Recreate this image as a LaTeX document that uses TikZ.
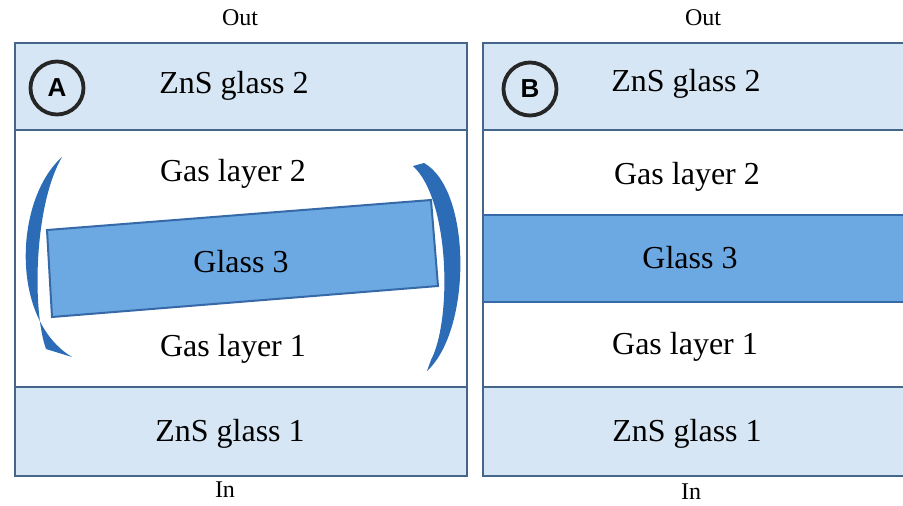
\documentclass[tikz,border=0pt]{standalone}
\usepackage{fontspec}
\setmainfont{Liberation Serif}
\setsansfont{Liberation Sans}
\begin{document}
\begin{tikzpicture}[x=1pt,y=-1pt]
\definecolor{zns}{HTML}{D6E6F4}
\definecolor{frame}{HTML}{46658B}
\definecolor{glassfill}{HTML}{6CA8E2}
\definecolor{glassedge}{HTML}{3569A8}
\definecolor{bracket}{HTML}{2C6BB5}
\tikzset{
  frameline/.style={draw=frame, line width=2.8pt},
  layertext/.style={font=\fontsize{32}{38}\selectfont, inner sep=0pt},
  porttext/.style={font=\fontsize{24}{28}\selectfont, inner sep=0pt},
  badge/.style={circle, draw=black!85, line width=3.8pt, minimum size=53pt, inner sep=0pt,
    font=\sffamily\bfseries\fontsize{26}{30}\selectfont},
}
\useasboundingbox (0,0) rectangle (903,506);
\fill[white] (0,0) rectangle (903,506);

% ---- panel A: tilted glass 3 ----
\fill[zns] (15,43) rectangle (467,130);
\fill[zns] (15,387) rectangle (467,476);
\draw[frameline] (15,43) rectangle (467,476);
\draw[frameline] (15,130) -- (467,130);
\draw[frameline] (15,387) -- (467,387);

\filldraw[fill=glassfill, draw=glassedge, line width=2pt]
  (47,230) -- (431,200) -- (438,286) -- (52,317) -- cycle;

% curved arrows around the tilted glass
\fill[bracket] (62,157) .. controls (14,200) and (10,320) .. (72,357)
  -- (46,349) .. controls (32,310) and (34,205) .. (62,157) -- cycle;
\fill[bracket] (413,166) -- (424,163) .. controls (472,190) and (472,330) .. (427,371)
  -- (431,360) .. controls (452,320) and (450,200) .. (413,166) -- cycle;

\node[badge] (badgeA) at (57,88) {A};
\node[layertext] (aznstop) at (234,86) {ZnS glass 2};
\node[layertext] (agas2) at (233,174) {Gas layer 2};
\node[layertext] (aglass3) at (241,262) {Glass 3};
\node[layertext] (agas1) at (233,349) {Gas layer 1};
\node[layertext] (aznsbot) at (230,434) {ZnS glass 1};
\node[porttext] (aout) at (240,18) {Out};
\node[porttext] (ain) at (225,490) {In};

% ---- panel B: level glass 3 ----
\fill[zns] (483,43) rectangle (905,130);
\fill[zns] (483,387) rectangle (905,476);
\fill[glassfill] (483,215) rectangle (905,302);
\draw[frameline] (905,43) -- (483,43) -- (483,476) -- (905,476);
\draw[frameline] (483,130) -- (905,130);
\draw[frameline] (483,387) -- (905,387);
\draw[draw=glassedge, line width=2pt] (483,215) -- (905,215) (483,302) -- (905,302);

\node[badge] (badgeB) at (530,89) {B};
\node[layertext] (bznstop) at (686,84) {ZnS glass 2};
\node[layertext] (bgas2) at (687,177) {Gas layer 2};
\node[layertext] (bglass3) at (690,258) {Glass 3};
\node[layertext] (bgas1) at (685,347) {Gas layer 1};
\node[layertext] (bznsbot) at (687,434) {ZnS glass 1};
\node[porttext] (bout) at (703,18) {Out};
\node[porttext] (bin) at (691,492) {In};
\end{tikzpicture}
\end{document}
